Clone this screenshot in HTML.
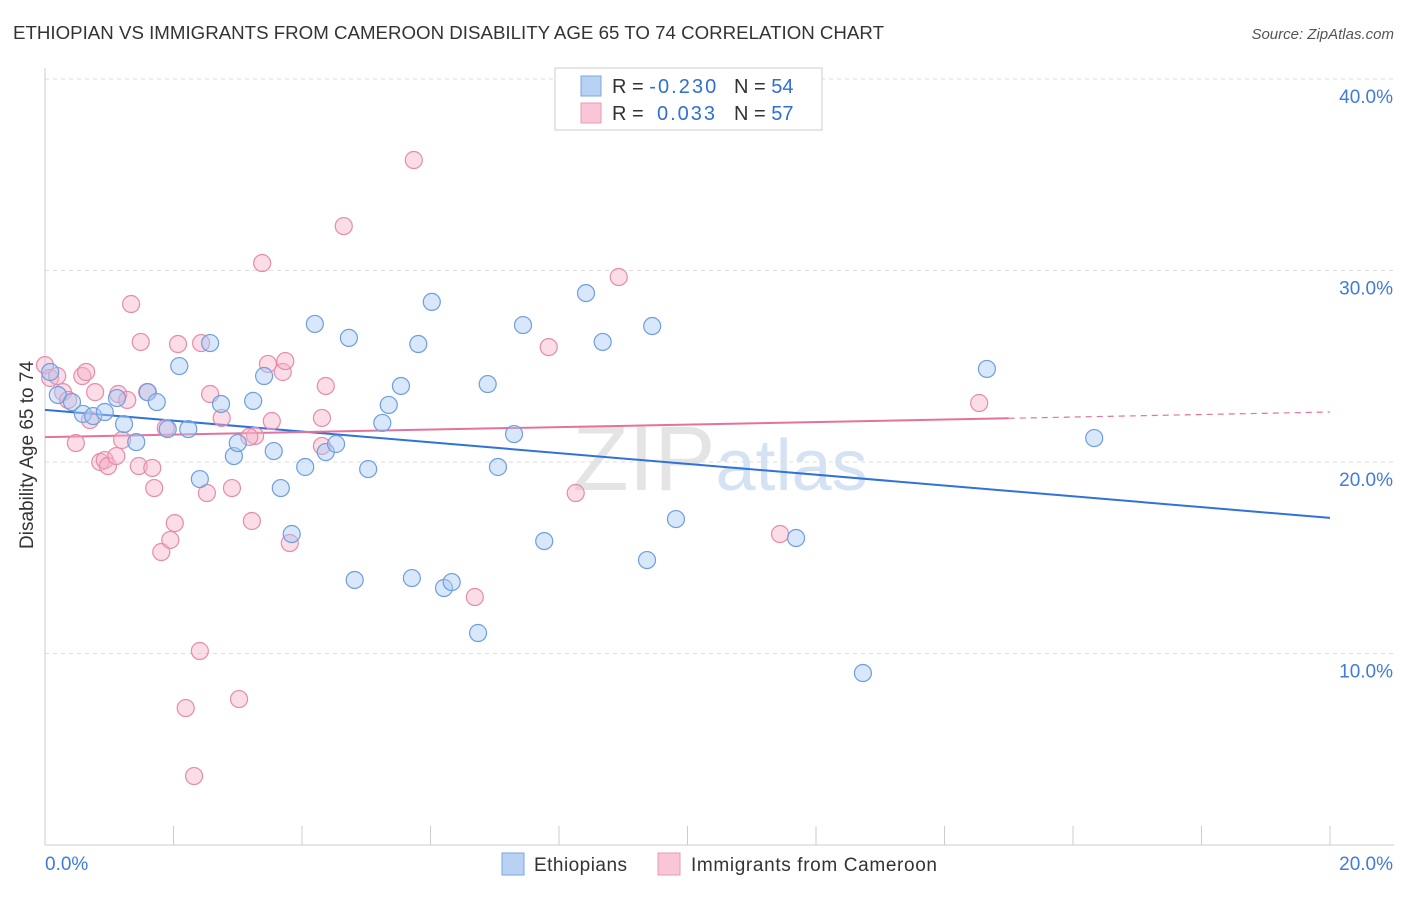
<!DOCTYPE html>
<html><head><meta charset="utf-8"><style>
body{margin:0;background:#fff;font-family:"Liberation Sans",sans-serif}
svg text{font-family:"Liberation Sans",sans-serif}
</style></head><body>
<svg id="chart" width="1406" height="892" xmlns="http://www.w3.org/2000/svg">
<text x="13" y="39" font-size="18" fill="#333" textLength="871" lengthAdjust="spacingAndGlyphs">ETHIOPIAN VS IMMIGRANTS FROM CAMEROON DISABILITY AGE 65 TO 74 CORRELATION CHART</text>
<text x="1394" y="39" font-size="15" fill="#555" text-anchor="end" font-style="italic">Source: ZipAtlas.com</text>
<text x="720" y="490" font-size="92" fill="#e4e4e4" text-anchor="middle" font-family="Liberation Serif">ZIP<tspan fill="#d4e2f4" font-family="Liberation Sans" font-size="72">atlas</tspan></text>
<g id="grid"></g>
<g id="axes"></g>
<g id="trends"></g>
<g id="points"></g>
<text transform="translate(33,455) rotate(-90)" font-size="19" fill="#333" text-anchor="middle">Disability Age 65 to 74</text>
<g>
<rect x="555" y="68" width="267" height="62" fill="#fff" stroke="#ccc"/>
<rect x="581" y="76" width="20" height="20" fill="#b8d2f4" stroke="#7aa6e0"/>
<rect x="581" y="103" width="20" height="20" fill="#f8c6d6" stroke="#eb9ab6"/>
<text x="612" y="93" font-size="20" fill="#333">R = <tspan fill="#2f6fd6" textLength="67">-0.230</tspan><tspan x="734">N = </tspan><tspan fill="#2f6fd6">54</tspan></text>
<text x="612" y="120" font-size="20" fill="#333">R = <tspan fill="#2f6fd6" x="657" textLength="58">0.033</tspan><tspan x="734">N = </tspan><tspan fill="#2f6fd6">57</tspan></text>
</g>
<g>
<rect x="502" y="853" width="22" height="22" fill="#b8d2f4" stroke="#7aa6e0"/>
<text x="534" y="871" font-size="19" fill="#333" textLength="93">Ethiopians</text>
<rect x="658" y="853" width="22" height="22" fill="#f8c6d6" stroke="#eb9ab6"/>
<text x="691" y="871" font-size="19" fill="#333" textLength="246">Immigrants from Cameroon</text>
</g>
</svg>
<script>
const yTicks=[10,20,30,40];
const yTickLabels=["10.0%","20.0%","30.0%","40.0%"];
const xTickLabels=["0.0%","20.0%"];
const blueX=[.08,.20,.42,.59,.75,.93,1.12,1.23,1.42,1.60,1.74,1.91,2.09,2.23,2.41,2.57,2.74,2.94,3.00,3.24,3.41,3.56,3.67,3.84,4.05,4.20,4.37,4.53,4.73,4.82,5.03,5.25,5.35,5.54,5.71,5.81,6.02,6.21,6.33,6.74,6.89,7.05,7.30,7.44,7.77,8.42,8.68,9.37,9.45,9.82,11.69,12.73,14.66,16.33];
const blueY=[24.70,23.50,23.13,22.51,22.40,22.61,23.34,21.98,21.04,23.65,23.13,21.72,25.01,21.72,19.11,26.21,23.03,20.31,20.99,23.19,24.49,20.57,18.64,16.24,19.74,27.21,20.52,20.94,26.48,13.84,19.63,22.04,22.98,23.97,13.94,26.16,28.36,13.42,13.73,11.07,24.07,19.74,21.46,27.15,15.87,28.82,26.27,14.88,27.10,17.02,16.03,8.98,24.86,21.25];
const pinkX=[0,.08,.19,.28,.36,.48,.58,.64,.70,.78,.86,.93,.98,1.11,1.14,1.20,1.28,1.34,1.46,1.49,1.59,1.67,1.70,1.81,1.88,1.95,2.02,2.07,2.32,2.41,2.43,2.52,2.57,2.75,2.91,3.02,3.22,3.27,3.38,3.47,3.53,3.70,3.74,3.81,4.31,4.31,4.37,4.65,5.74,6.69,7.84,8.26,8.93,11.44,14.54,2.19,3.18];
const pinkY=[25.06,24.39,24.49,23.65,23.24,20.99,24.49,24.70,22.19,23.65,20.00,20.10,19.79,20.31,23.55,21.15,23.24,28.25,19.79,26.27,23.65,19.69,18.64,15.30,21.77,15.93,16.81,26.16,3.60,10.13,26.21,18.38,23.55,22.30,18.64,7.62,16.92,21.36,30.39,25.12,22.14,24.70,25.27,15.77,22.30,20.84,23.97,32.32,35.77,12.95,26.00,18.38,29.66,16.24,23.08,7.15,21.31];
const blueTrend=[22.72,17.08];
const pinkTrend=[21.30,22.61];
const pinkSolidEnd=15;
const NS="http://www.w3.org/2000/svg";
const X=v=>45+v/20*1285, Y=v=>845-v/40*766;
function mk(t,a,p){const e=document.createElementNS(NS,t);for(const k in a)e.setAttribute(k,a[k]);p.appendChild(e);return e;}
const grid=document.getElementById('grid'),axes=document.getElementById('axes');
yTicks.forEach((t,i)=>{
 const l=mk('line',{x1:45,x2:1394,y1:Y(t),y2:Y(t),stroke:'#ddd','stroke-dasharray':'4,4'},grid);
 
 
 const tx=mk('text',{x:1393,y:Y(t)+24,'font-size':19,fill:'#3f7bd8','text-anchor':'end'},axes);
 tx.textContent=yTickLabels[i];
 
 
});
const ax=mk('line',{x1:45,x2:1394,y1:845,y2:845,stroke:'#ccc'},axes);


const ay=mk('line',{x1:45,x2:45,y1:68,y2:845,stroke:'#ccc'},axes);


for(let i=0;i<=10;i++){const t=mk('line',{x1:X(i*2),x2:X(i*2),y1:826,y2:845,stroke:'#ccc'},axes);
 
 }
[[0,'start',45],[1,'end',1393]].forEach(([i,a,x])=>{const t=mk('text',{x:x,y:870,'font-size':19,fill:'#3f7bd8','text-anchor':a},axes);t.textContent=xTickLabels[i];
 
 });
const pts=document.getElementById('points');
function dots(xs,ys,fill,stroke,name){xs.forEach((x,i)=>{const c=mk('circle',{cx:X(x),cy:Y(ys[i]),r:8.5,fill:fill,'fill-opacity':0.45,stroke:stroke,'stroke-width':1.2},pts);
 
 });}
dots(pinkX,pinkY,'#f5b3c9','#e88aab','cameroon-point');
dots(blueX,blueY,'#a9c9f2','#6d9ee0','ethiopian-point');
const tr=document.getElementById('trends');
const bl=mk('line',{x1:X(0),y1:Y(blueTrend[0]),x2:X(20),y2:Y(blueTrend[1]),stroke:'#2f72d8','stroke-width':2},tr);


const pAt=x=>pinkTrend[0]+(pinkTrend[1]-pinkTrend[0])*x/20;
const pl=mk('line',{x1:X(0),y1:Y(pinkTrend[0]),x2:X(pinkSolidEnd),y2:Y(pAt(pinkSolidEnd)),stroke:'#e4729a','stroke-width':2},tr);


const pd=mk('line',{x1:X(pinkSolidEnd),y1:Y(pAt(pinkSolidEnd)),x2:X(20),y2:Y(pinkTrend[1]),stroke:'#e4729a','stroke-width':1.2,'stroke-dasharray':'6,5'},tr);


</script>
</body></html>
